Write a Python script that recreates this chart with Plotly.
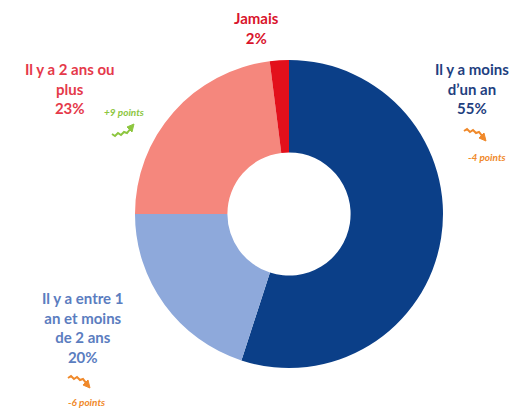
import plotly.graph_objects as go

W, H = 522, 414

# Données
categories = ["Il y a moins d'un an", "Il y a entre 1 an et moins de 2 ans",
              "Il y a 2 ans ou plus", "Jamais"]
values = [55, 20, 23, 2]
evolutions = ["-4 points", "-6 points", "+9 points", None]

slice_colors = ["#0B3F88", "#8EA9DB", "#F5877D", "#E3101B"]
label_colors = ["#1F3F80", "#5B7DBF", "#E5394A", "#D9142B"]
label_lines = [
    ["Il y a moins", "d\u2019un an"],
    ["Il y a entre 1", "an et moins", "de 2 ans"],
    ["Il y a 2 ans ou", "plus"],
    ["Jamais"],
]

FONT = "Lato"


def pp(x, y):
    """pixel -> paper coordinates"""
    return x / W, 1 - y / H


cx, cy, r = 289, 214, 154
x0, y_top = pp(cx - r, cy - r)
x1, y_bot = pp(cx + r, cy + r)

fig = go.Figure(go.Pie(
    labels=categories,
    values=values,
    sort=False,
    direction="clockwise",
    rotation=0,
    hole=0.40,
    marker=dict(colors=slice_colors, line=dict(width=0)),
    textinfo="none",
    hoverinfo="label+percent",
    domain=dict(x=[x0, x1], y=[y_bot, y_top]),
    showlegend=False,
))

# Étiquettes des catégories
label_pos = [(472, 88), (82, 327), (70, 88), (256, 28)]
annotations = []
for i, (lx, ly) in enumerate(label_pos):
    text = "<br>".join(label_lines[i] + [f"{values[i]}%"])
    ax_, ay_ = pp(lx, ly)
    annotations.append(dict(
        x=ax_, y=ay_, xref="paper", yref="paper", text=text,
        showarrow=False, xanchor="center", yanchor="middle", align="center",
        font=dict(family=FONT, size=15, color=label_colors[i], weight="bold"),
    ))

# Évolutions
evo_colors = {"+": "#8DC63F", "-": "#F0892A"}
evo_pos = [(487, 157), (86, 402), (124, 112), None]
for i, evo in enumerate(evolutions):
    if evo is None:
        continue
    ex, ey = pp(*evo_pos[i])
    annotations.append(dict(
        x=ex, y=ey, xref="paper", yref="paper", text=f"<i>{evo}</i>",
        showarrow=False, xanchor="center", yanchor="middle",
        font=dict(family=FONT, size=10, color=evo_colors[evo[0]], weight="bold"),
    ))

# Petites flèches ondulées (pictogrammes de tendance)
shapes = []


def wavy_arrow(x_start, y_start, up, color):
    sgn = -1 if up else 1
    pts = [(0, 0), (3, -2), (6, 1), (9, -1), (12, 2), (15, 1), (19, 6)]
    pts = [(x_start + dx, y_start + sgn * dy) for dx, dy in pts]
    d = "M " + " L ".join(f"{pp(x, y)[0]:.5f},{pp(x, y)[1]:.5f}" for x, y in pts)
    shapes.append(dict(type="path", xref="paper", yref="paper", path=d,
                       line=dict(color=color, width=2)))
    tx, ty = pts[-1]
    head = [(tx + 3, ty + sgn * 4), (tx - 4, ty + sgn * 1), (tx + 1, ty - sgn * 4)]
    d2 = "M " + " L ".join(f"{pp(x, y)[0]:.5f},{pp(x, y)[1]:.5f}" for x, y in head) + " Z"
    shapes.append(dict(type="path", xref="paper", yref="paper", path=d2,
                       fillcolor=color, line=dict(color=color, width=1)))


wavy_arrow(464, 131, False, evo_colors["-"])
wavy_arrow(68, 378, False, evo_colors["-"])
wavy_arrow(112, 134, True, evo_colors["+"])

fig.update_layout(
    width=W, height=H,
    margin=dict(l=0, r=0, t=0, b=0),
    paper_bgcolor="white",
    plot_bgcolor="white",
    annotations=annotations,
    shapes=shapes,
)

fig.write_html("out.html")
